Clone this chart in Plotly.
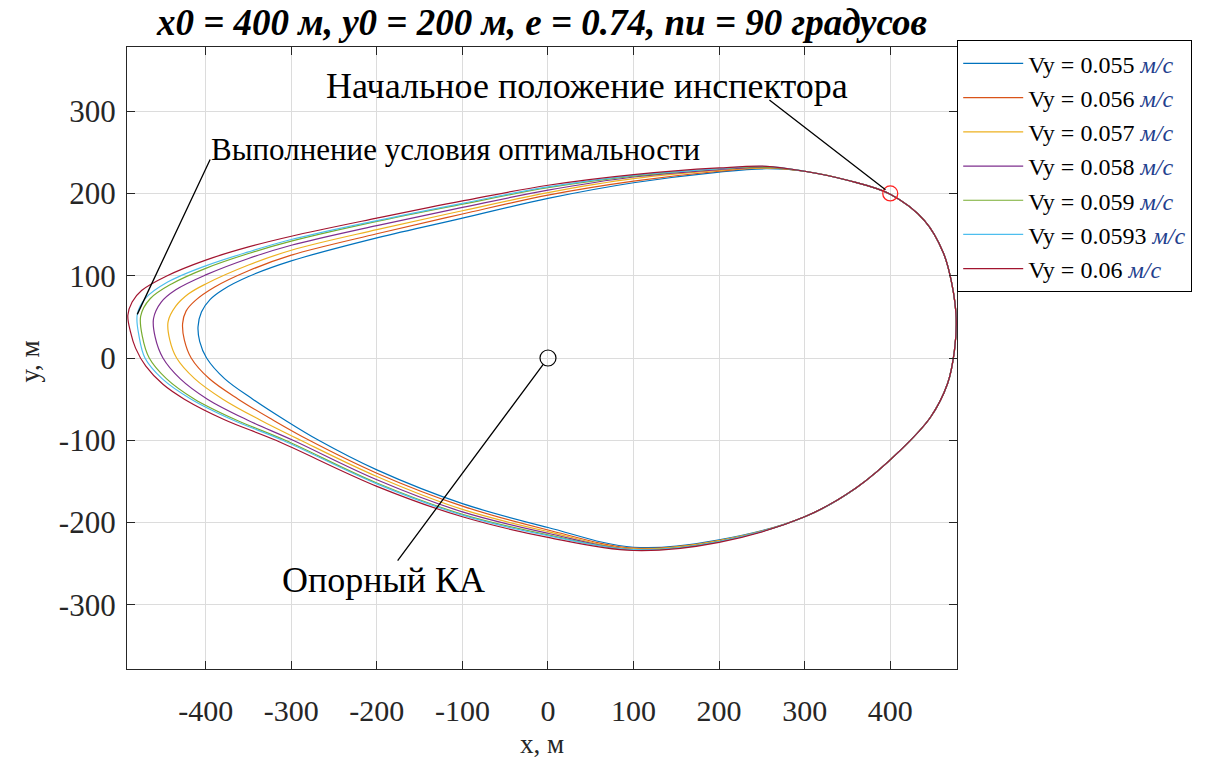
import plotly.graph_objects as go

# Relative trajectories of the inspector for several initial Vy values (metres)
labels = ["0.055", "0.056", "0.057", "0.058", "0.059", "0.0593", "0.06"]
colors = ["#0072BD", "#D95319", "#EDB120", "#7E2F8E", "#77AC30", "#4DBEEE", "#A2142F"]

# shared arc near the start point (upper right)
start_x = [400, 350, 300]
start_y = [199, 216, 227]
# shared arc on the right side, from the bottom back to the start point
return_x = [300, 360, 412, 447, 467, 475, 477, 472, 462, 440, 400]
return_y = [-193, -158, -112, -72, -31, 9, 49, 90, 128, 167, 199]

x_055 = [255, 200, 100, 0, -100, -200, -300, -350, -380, -395, -405, -409, -407, -399, -378, -345, -308, -268, -200, -100, 0, 100, 200]
y_055 = [230, 226, 213, 194, 170, 146, 118, 99, 83, 71, 56, 38, 20, 0, -25, -50, -75, -100, -136, -177, -206, -230, -221]

x_056 = [255, 200, 100, 0, -100, -200, -300, -350, -390, -412, -423, -427, -425, -417, -396, -362, -322, -279, -200, -100, 0, 100, 200]
y_056 = [231, 227, 215, 198, 175, 151, 125, 106, 86, 70, 57, 42, 22, 0, -25, -50, -75, -100, -140, -180, -209, -231, -222]

x_057 = [255, 200, 100, 0, -100, -200, -300, -350, -400, -420, -435, -444, -442, -434, -413, -380, -337, -289, -200, -100, 0, 100, 200]
y_057 = [231, 228, 218, 201, 179, 156, 131, 113, 90, 78, 63, 44, 22, 0, -25, -50, -75, -100, -144, -184, -211, -232, -222]

x_058 = [255, 200, 100, 0, -100, -200, -300, -350, -400, -435, -452, -461, -459, -450, -430, -398, -352, -298, -200, -100, 0, 100, 200]
y_058 = [232, 229, 220, 204, 183, 161, 137, 121, 101, 83, 68, 48, 25, 0, -25, -50, -75, -100, -148, -187, -213, -233, -223]

x_059 = [255, 200, 100, 0, -100, -200, -300, -350, -400, -440, -465, -476, -474, -466, -446, -413, -365, -307, -200, -100, 0, 100, 200]
y_059 = [232, 230, 221, 207, 187, 166, 142, 127, 109, 90, 72, 51, 26, 0, -25, -50, -75, -100, -152, -190, -215, -233, -223]

x_0593 = [255, 200, 100, 0, -100, -200, -300, -350, -400, -445, -470, -480, -478, -471, -451, -417, -369, -310, -200, -100, 0, 100, 200]
y_0593 = [233, 230, 222, 208, 188, 167, 144, 129, 112, 92, 73, 53, 27, 0, -25, -50, -75, -100, -153, -191, -216, -233, -223]

x_06 = [255, 200, 100, 0, -100, -200, -300, -350, -400, -445, -475, -486, -491, -488, -482, -470, -450, -425, -378, -318, -200, -100, 0, 100, 200]
y_06 = [233, 231, 223, 210, 191, 170, 148, 135, 119, 100, 82, 68, 52, 32, 12, -10, -32, -50, -75, -100, -156, -193, -218, -234, -224]

curves_x = [x_055, x_056, x_057, x_058, x_059, x_0593, x_06]
curves_y = [y_055, y_056, y_057, y_058, y_059, y_0593, y_06]

x_ticks = [-400, -300, -200, -100, 0, 100, 200, 300, 400]
y_ticks = [-300, -200, -100, 0, 100, 200, 300]

inspector_start = (400, 200)
reference_sc = (0, 0)

FONT = "Liberation Serif"
INK = "#262626"

fig = go.Figure()
for lab, col, cx, cy in zip(labels, colors, curves_x, curves_y):
    fig.add_trace(go.Scatter(
        x=start_x + cx + return_x,
        y=start_y + cy + return_y,
        mode="lines",
        line=dict(color=col, width=1.2, shape="spline", smoothing=1.0),
        name=f"Vy = {lab} <i><span style='color:#23408e'>м/с</span></i>",
    ))

fig.add_trace(go.Scatter(x=[inspector_start[0]], y=[inspector_start[1]], mode="markers",
                         marker=dict(symbol="circle-open", size=15, color="#ff2020", line=dict(width=1.3)),
                         showlegend=False))
fig.add_trace(go.Scatter(x=[reference_sc[0]], y=[reference_sc[1]], mode="markers",
                         marker=dict(symbol="circle-open", size=16, color="black", line=dict(width=1.2)),
                         showlegend=False))

# leftmost point of the optimal trajectory
opt_i = x_0593.index(min(x_0593))
opt_pt = (x_0593[opt_i], y_0593[opt_i])

annotations = [
    dict(x=inspector_start[0], y=inspector_start[1], ax=257, ay=315, axref="x", ayref="y",
         text="", showarrow=True, arrowhead=0, arrowwidth=1.3, arrowcolor="black", standoff=6),
    dict(x=opt_pt[0], y=opt_pt[1], ax=-394, ay=243, axref="x", ayref="y",
         text="", showarrow=True, arrowhead=0, arrowwidth=1.3, arrowcolor="black", standoff=0),
    dict(x=reference_sc[0], y=reference_sc[1], ax=-177, ay=-248, axref="x", ayref="y",
         text="", showarrow=True, arrowhead=0, arrowwidth=1.3, arrowcolor="black", standoff=8),
    dict(x=46, y=331, xref="x", yref="y", text="Начальное положение инспектора", showarrow=False,
         xanchor="center", yanchor="middle", font=dict(family=FONT, size=36, color="black")),
    dict(x=-108, y=254, xref="x", yref="y", text="Выполнение условия оптимальности", showarrow=False,
         xanchor="center", yanchor="middle", font=dict(family=FONT, size=31, color="black")),
    dict(x=-192, y=-270, xref="x", yref="y", text="Опорный КА", showarrow=False,
         xanchor="center", yanchor="middle", font=dict(family=FONT, size=36, color="black")),
    dict(x=0.5, y=-0.121, xref="paper", yref="paper", text="x, м", showarrow=False,
         xanchor="center", yanchor="middle", font=dict(family=FONT, size=27, color=INK)),
    dict(x=-0.117, y=0.494, xref="paper", yref="paper", text="y, м", showarrow=False, textangle=-90,
         xanchor="center", yanchor="middle", font=dict(family=FONT, size=27, color=INK)),
]

axis_common = dict(
    showgrid=True, gridcolor="#dcdcdc", gridwidth=1,
    showline=True, linecolor=INK, linewidth=1.3, mirror="ticks",
    ticks="inside", ticklen=8, tickcolor=INK, tickwidth=1,
    zeroline=False, tickmode="array",
)

fig.update_layout(
    width=1209, height=761,
    font=dict(family=FONT, color="black"),
    margin=dict(l=127, r=252, t=47, b=92),
    paper_bgcolor="white", plot_bgcolor="white",
    title=dict(text="<b><i>x0 = 400 м, y0 = 200 м, e = 0.74, nu = 90 градусов</i></b>",
               x=0.5, xref="paper", xanchor="center", y=1 - 22 / 761, yanchor="middle",
               font=dict(family=FONT, size=37, color="black")),
    xaxis=dict(range=[-492, 478], tickvals=x_ticks, ticktext=[str(v) for v in x_ticks],
               ticklabelstandoff=15, tickfont=dict(family=FONT, size=30, color=INK), **axis_common),
    yaxis=dict(range=[-378, 378], tickvals=y_ticks, ticktext=[str(v) for v in y_ticks],
               ticklabelstandoff=4, tickfont=dict(family=FONT, size=31, color=INK), **axis_common),
    legend=dict(x=1.0, y=1.011, xanchor="left", yanchor="top",
                bgcolor="white", bordercolor="black", borderwidth=1.2,
                font=dict(family=FONT, size=24, color="black"), itemwidth=60),
    annotations=annotations,
    showlegend=True,
)

fig.write_html("out.html")
